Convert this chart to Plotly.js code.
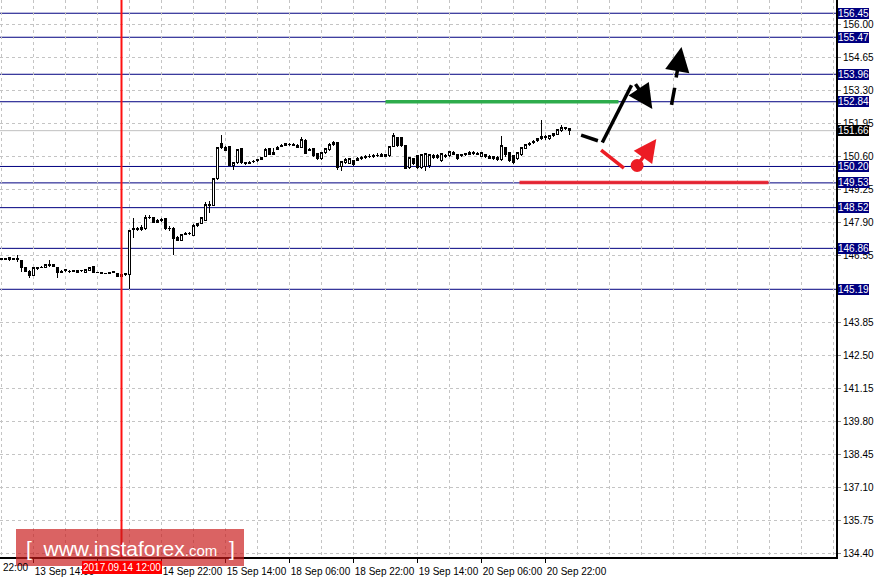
<!DOCTYPE html>
<html>
<head>
<meta charset="utf-8">
<script src="https://cdn.plot.ly/plotly-3.0.1.min.js"></script>
<style>
html,body{margin:0;padding:0;background:#fff;}
#chart{width:878px;height:580px;}
#chart .cartesianlayer .trace path{shape-rendering:crispEdges;}
#chart .gridlayer path{shape-rendering:crispEdges;}
</style>
</head>
<body>
<div id="chart"></div>
<script>
// H1 bars; bar index 0 = 13 Sep 14:00 (weekend hours skipped)
const firstBar = -8;
const openP = [
146.42,146.44,146.40,146.46,146.44,146.36,146.06,145.92,145.77,146.08,
146.06,146.08,146.20,146.20,146.06,145.88,145.94,145.92,145.92,145.86,
145.94,145.88,145.96,146.12,145.88,145.86,145.85,145.84,145.86,145.85,
145.72,145.78,145.80,147.62,147.66,147.70,147.65,148.12,148.12,147.92,
147.98,148.06,147.66,147.68,147.30,147.20,147.42,147.46,147.40,147.78,
147.86,148.00,148.62,148.62,149.70,151.12,150.98,151.00,150.24,150.36,
150.92,150.36,150.34,150.40,150.44,150.48,150.60,150.92,150.70,150.90,
151.00,151.06,151.10,151.10,151.06,150.98,151.25,150.88,150.93,150.72,
150.52,150.76,150.88,151.09,151.17,150.19,150.36,150.34,150.44,150.46,
150.52,150.56,150.60,150.62,150.66,150.62,150.68,150.64,151.01,151.37,
151.37,151.05,150.15,150.52,150.64,150.15,150.19,150.24,150.64,150.58,
150.44,150.66,150.64,150.76,150.68,150.64,150.68,150.70,150.78,150.72,
150.62,150.68,150.62,150.60,150.56,150.48,150.97,150.76,150.64,150.52,
150.68,150.93,151.09,151.17,151.25,151.33,151.41,151.33,151.45,151.51,
151.66,151.78,151.74];
const highP = [
146.48,146.46,146.52,146.48,146.58,146.38,146.10,145.96,146.10,146.10,
146.14,146.22,146.38,146.24,146.08,145.96,146.00,145.96,145.96,145.98,
145.98,146.02,146.10,146.14,145.90,145.88,145.87,145.88,145.95,145.87,
145.82,145.86,147.62,148.10,147.72,147.80,148.20,148.22,148.14,148.04,
148.08,148.08,147.76,147.72,147.36,147.46,147.52,147.54,147.86,147.90,
148.14,148.76,148.80,149.74,151.00,151.49,151.04,151.04,150.40,150.92,
150.96,150.40,150.42,150.46,150.50,150.58,150.94,150.96,150.96,151.02,
151.10,151.14,151.16,151.14,151.10,151.42,151.32,150.96,150.96,150.76,
150.80,150.96,151.16,151.22,151.20,150.44,150.56,150.56,150.48,150.60,
150.64,150.68,150.70,150.72,150.74,150.76,150.70,151.05,151.57,151.42,
151.40,151.09,150.60,150.56,150.68,150.72,150.76,150.72,150.72,150.70,
150.76,150.72,150.84,150.82,150.70,150.72,150.76,150.84,150.82,150.78,
150.80,150.70,150.66,150.62,150.62,151.45,151.00,150.80,150.68,150.80,
151.00,151.13,151.20,151.28,151.36,152.10,151.49,151.49,151.57,151.74,
151.90,151.82,151.78];
const lowP = [
146.38,146.40,146.36,146.38,146.32,145.90,145.88,145.65,145.74,145.98,
146.04,146.06,146.10,146.08,145.65,145.84,145.90,145.85,145.90,145.85,
145.88,145.86,145.94,145.86,145.84,145.83,145.82,145.82,145.84,145.68,
145.70,145.74,145.19,147.30,147.58,147.58,147.62,148.06,147.90,147.88,
147.94,147.62,147.56,146.58,147.16,147.18,147.40,147.40,147.36,147.74,
147.84,147.98,148.30,148.58,149.64,150.92,150.82,150.20,150.05,150.32,
150.32,150.28,150.30,150.36,150.40,150.46,150.58,150.66,150.68,150.88,
150.98,151.02,151.04,151.04,150.96,150.96,150.70,150.84,150.60,150.48,
150.48,150.72,150.84,151.05,150.05,150.03,150.32,150.30,150.22,150.42,
150.48,150.52,150.54,150.56,150.58,150.58,150.58,150.60,150.98,151.00,
150.98,150.08,150.10,150.28,150.10,150.10,150.03,150.15,150.50,150.52,
150.40,150.56,150.60,150.66,150.46,150.60,150.64,150.66,150.66,150.66,
150.58,150.56,150.50,150.46,150.42,150.44,150.60,150.38,150.30,150.48,
150.64,150.90,151.05,151.10,151.20,151.28,151.30,151.28,151.40,151.47,
151.62,151.70,151.49];
const closeP = [
146.44,146.42,146.48,146.42,146.40,146.06,145.92,145.76,146.08,146.02,
146.08,146.20,146.16,146.10,145.86,145.92,145.98,145.90,145.94,145.96,
145.96,146.00,146.08,145.88,145.86,145.85,145.84,145.86,145.92,145.70,
145.80,145.84,147.60,147.68,147.62,147.64,148.12,148.10,147.92,148.00,
148.04,147.66,147.68,147.28,147.20,147.42,147.46,147.48,147.80,147.86,
148.10,148.64,148.66,149.70,150.96,150.98,150.86,150.24,150.36,150.88,
150.36,150.34,150.38,150.42,150.48,150.56,150.90,150.70,150.78,150.98,
151.06,151.12,151.08,151.06,150.98,151.30,150.72,150.84,150.64,150.52,
150.76,150.93,151.09,151.17,150.15,150.40,150.50,150.52,150.26,150.52,
150.58,150.62,150.62,150.66,150.64,150.70,150.62,151.01,151.45,151.05,
151.05,150.11,150.56,150.32,150.15,150.68,150.72,150.68,150.56,150.64,
150.72,150.60,150.80,150.70,150.52,150.68,150.72,150.78,150.72,150.70,
150.76,150.60,150.54,150.54,150.48,151.05,150.68,150.44,150.36,150.76,
150.97,151.09,151.13,151.21,151.33,151.41,151.37,151.45,151.53,151.70,
151.78,151.74,151.66];

const xTickVals = [0, 16, 32, 48, 64, 80, 96, 112, 128];
const xTickText = ['13 Sep 14:00', '', '14 Sep 22:00', '15 Sep 14:00', '18 Sep 06:00', '18 Sep 22:00', '19 Sep 14:00', '20 Sep 06:00', '20 Sep 22:00'];
const yTickVals = [134.40,135.75,137.10,138.45,139.80,141.15,142.50,143.85,146.55,147.90,149.25,150.60,151.95,153.30,154.65,156.00];
const levels = [156.45, 155.47, 153.96, 152.84, 150.20, 149.53, 148.52, 146.86, 145.19];
const currentPrice = 151.66;
const markerBar = 22;            // 2017.09.14 12:00
const markerLabel = '2017.09.14 12:00';

const xs = openP.map((_, i) => firstBar + i);

const trace = {
  type: 'candlestick',
  x: xs, open: openP, high: highP, low: lowP, close: closeP,
  increasing: {line: {color: '#000', width: 1}, fillcolor: '#fff'},
  decreasing: {line: {color: '#000', width: 1}, fillcolor: '#000'},
  whiskerwidth: 0,
  hoverinfo: 'skip', showlegend: false
};

const FONT = 'Liberation Sans, Arial, sans-serif';
const grid = '#c4c4c4';

const shapes = [];
levels.forEach(v => shapes.push({type:'line', xref:'paper', x0:0, x1:1, yref:'y', y0:v, y1:v, line:{color:'#000080', width:1}, layer:'below'}));
shapes.push({type:'line', xref:'paper', x0:0, x1:1, yref:'y', y0:currentPrice, y1:currentPrice, line:{color:'#c0c0c0', width:1}, layer:'below'});
shapes.push({type:'line', xref:'x', x0:markerBar, x1:markerBar, yref:'paper', y0:0, y1:1, line:{color:'#ff1010', width:2}, layer:'above'});
// analyst drawings
shapes.push({type:'line', xref:'x', yref:'y', x0:88, x1:146.25, y0:152.84, y1:152.84, line:{color:'#2eac4c', width:3.5}, layer:'above'});
shapes.push({type:'line', xref:'x', yref:'y', x0:121.5, x1:183.75, y0:149.55, y1:149.55, line:{color:'rgba(236,30,40,0.9)', width:3.5}, layer:'above'});
shapes.push({type:'line', xref:'x', yref:'y', x0:136.9, y0:151.48, x1:141.1, y1:151.25, line:{color:'#000', width:3.5}, layer:'above'});
shapes.push({type:'line', xref:'x', yref:'y', x0:142.2, y0:151.18, x1:149.5, y1:153.51, line:{color:'#000', width:3.5}, layer:'above'});
shapes.push({type:'line', xref:'x', yref:'y', x0:159.5, y0:152.71, x1:160.3, y1:153.41, line:{color:'#000', width:3.5}, layer:'above'});
shapes.push({type:'line', xref:'x', yref:'y', x0:141.9, y0:150.87, x1:147.6, y1:150.13, line:{color:'#ec1c24', width:3.5}, layer:'above'});
shapes.push({type:'circle', xref:'x', yref:'y', xsizemode:'pixel', ysizemode:'pixel', xanchor:150.9, yanchor:150.24, x0:-6.5, x1:6.5, y0:-6.5, y1:6.5, fillcolor:'#ec1c24', line:{width:0}, layer:'above'});
// logo box
shapes.push({type:'rect', xref:'paper', yref:'paper', x0:16/836, x1:244/836, y0:(557-566)/557, y1:(557-529)/557, fillcolor:'rgba(200,25,25,0.68)', line:{width:0}, layer:'above'});

const annotations = [];
const boxLabel = (v, bg) => ({xref:'paper', x:1, xanchor:'left', xshift:2, yref:'y', y:v, yanchor:'middle', text:v.toFixed(2), showarrow:false, bgcolor:bg, font:{family:FONT, size:10, color:'#fff'}, borderpad:0, borderwidth:0});
levels.forEach(v => annotations.push(boxLabel(v, '#000080')));
annotations.push(boxLabel(currentPrice, '#000'));
annotations.push({xref:'x', x:markerBar, xanchor:'center', yref:'paper', y:(557-567)/557, yanchor:'middle', text:markerLabel, showarrow:false, bgcolor:'#ff0000', font:{family:FONT, size:10, color:'#fff'}, borderpad:1, borderwidth:0});
annotations.push({xref:'paper', x:0, xanchor:'left', xshift:1, yref:'paper', y:(557-567)/557, yanchor:'middle', text:'22:00', showarrow:false, font:{family:FONT, size:10, color:'#000'}});
// arrows
annotations.push({xref:'x', yref:'y', axref:'x', ayref:'y', x:154.7, y:152.54, ax:150.25, ay:153.62, text:'', showarrow:true, arrowhead:2, arrowsize:1.4, arrowwidth:3.5, arrowcolor:'#000', standoff:0});
annotations.push({xref:'x', yref:'y', axref:'x', ayref:'y', x:162.0, y:155.07, ax:160.6, ay:153.77, text:'', showarrow:true, arrowhead:2, arrowsize:1.4, arrowwidth:3.5, arrowcolor:'#000', standoff:0});
annotations.push({xref:'x', yref:'y', axref:'x', ayref:'y', x:155.7, y:151.32, ax:150.9, ay:150.24, text:'', showarrow:true, arrowhead:2, arrowsize:1.3, arrowwidth:3.5, arrowcolor:'#ec1c24', standoff:0});
// logo text
annotations.push({xref:'paper', yref:'paper', x:130/836, y:(557-548)/557, xanchor:'center', yanchor:'middle', showarrow:false,
  text:'[  www.instaforex<span style="font-size:15px">.com</span>  ]', font:{family:FONT, size:21, color:'#fff'}});

const layout = {
  width: 878, height: 580,
  margin: {l:0, r:42, t:0, b:23, pad:0},
  paper_bgcolor:'#fff', plot_bgcolor:'#fff',
  font: {family: FONT, size: 10, color:'#000'},
  showlegend: false,
  hovermode: false,
  xaxis: {
    range: [-8.375, 200.625], rangeslider: {visible:false}, fixedrange:true,
    tickmode:'array', tickvals: xTickVals, ticktext: xTickText,
    ticks:'outside', ticklen:4, tickcolor:'#000', ticklabelshift: 31,
    tickfont:{family:FONT, size:10, color:'#000'},
    showline:true, linecolor:'#000', linewidth:2,
    showgrid:true, gridcolor:grid, griddash:'3px,3px', gridwidth:1,
    minor:{tickmode:'linear', tick0:0, dtick:8, showgrid:true, gridcolor:grid, griddash:'3px,3px', ticklen:0},
    zeroline:false
  },
  yaxis: {
    side:'right', range:[134.27, 156.99], fixedrange:true,
    tickmode:'array', tickvals: yTickVals, tickformat:'.2f',
    ticks:'outside', ticklen:3, tickcolor:'#888',
    tickfont:{family:FONT, size:10, color:'#000'},
    showline:true, linecolor:'#000', linewidth:2,
    showgrid:true, gridcolor:grid, griddash:'3px,3px', gridwidth:1,
    zeroline:false
  },
  shapes: shapes,
  annotations: annotations
};

Plotly.newPlot('chart', [trace], layout, {staticPlot:true, displayModeBar:false});
</script>
</body>
</html>
